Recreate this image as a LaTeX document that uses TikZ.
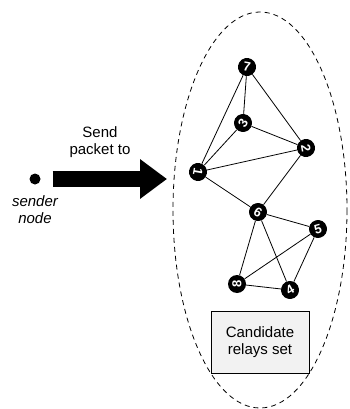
\documentclass[tikz,border=0pt]{standalone}
\usepackage{fontspec}
\setmainfont{Liberation Sans}
\usetikzlibrary{arrows.meta}

\tikzset{
  relay/.style={circle, fill=black, inner sep=0pt, minimum size=18pt, text=white,
    font=\fontsize{13}{13}\selectfont\bfseries},
  link/.style={line width=0.8pt},
  label/.style={align=center, font=\fontsize{15}{17.5}\selectfont},
}

\begin{document}
\begin{tikzpicture}[x=1pt, y=-1pt]
	\useasboundingbox (0,0) rectangle (349,409);
	% Conjunto de candidatos
	\draw[dash pattern=on 5pt off 4pt, line width=0.8pt] (260,210) ellipse [x radius=87, y radius=198];
	% Vértices
	\node[relay, rotate=-10] (n7) at (247,67) {7};
	\node[relay, rotate=60] (n3) at (243,123) {3};
	\node[relay, rotate=-80] (n2) at (306,148) {2};
	\node[relay, rotate=-100] (n1) at (198,172) {1};
	\node[relay, rotate=-30] (n6) at (258,212) {6};
	\node[relay, rotate=15] (n5) at (318,229) {5};
	\node[relay, rotate=90] (n8) at (237,284) {8};
	\node[relay, rotate=30] (n4) at (290,290) {4};
	% Arestas
	\foreach \a/\b in {n7/n3, n7/n1, n7/n2, n3/n1, n3/n2, n1/n2, n1/n6, n2/n6,
	                   n6/n5, n6/n8, n6/n4, n5/n8, n5/n4, n8/n4}
		\draw[link] (\a) -- (\b);
	% Caixa
	\node[draw, fill=gray!10, line width=0.6pt, minimum width=98pt, minimum height=62pt, label] (set) at (260,342) {Candidate\\relays set};
	% Emissor
	\node[circle, fill=black, inner sep=0pt, minimum size=11pt] (sender) at (35,179) {};
	\node[label, font=\fontsize{15}{17.5}\selectfont\itshape, below=7pt] (sendtxt) at (sender.south) {sender\\node};
	\node[label] (sendlbl) at (100,142) {Send\\packet to};
	\coordinate (tip) at (167,179);
	\draw[line width=16pt, -{Triangle[length=27pt, width=38pt]}] ([xshift=12pt]sender.east) -- (tip);
\end{tikzpicture}
\end{document}
